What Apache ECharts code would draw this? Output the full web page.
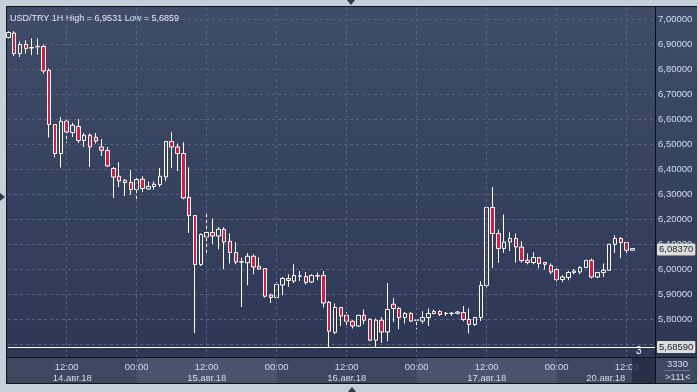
<!DOCTYPE html>
<html>
<head>
<meta charset="utf-8">
<script src="https://cdn.jsdelivr.net/npm/echarts@6/dist/echarts.min.js"></script>
<style>
html,body{margin:0;padding:0;background:#c6d0db;width:698px;height:392px;overflow:hidden;position:relative;}
.abs{position:absolute;}
#border{left:6px;top:6px;width:691px;height:378px;background:#10141c;}
#navy{left:7px;top:7px;width:690px;height:350px;background:linear-gradient(to bottom,#3f4c68 0%,#2c3855 100%);}
#band{left:7px;top:358px;width:690px;height:25px;background:#3c4760;}
#vline{left:655px;top:7px;width:1px;height:376px;background:#0c0f16;}
#c{left:0;top:0;width:698px;height:392px;}
#scrollbox{left:632px;top:358px;width:23px;height:25px;background:rgba(34,43,64,0.8);}
.tri{width:0;height:0;}
#triTop{left:347px;top:0;border-left:4px solid transparent;border-right:4px solid transparent;border-top:5px solid #2f394d;}
#triLeft{left:0;top:193px;border-top:4px solid transparent;border-bottom:4px solid transparent;border-left:5px solid #2f394d;}
#triBottom{left:348px;top:387px;border-left:4px solid transparent;border-right:4px solid transparent;border-bottom:5px solid #2f394d;}
</style>
</head>
<body>
<div id="border" class="abs"></div>
<div id="navy" class="abs"></div>
<div id="band" class="abs"></div>
<div id="vline" class="abs"></div>
<div id="c" class="abs"></div>
<div id="scrollbox" class="abs"></div>
<div id="triTop" class="abs tri"></div>
<div id="triLeft" class="abs tri"></div>
<div id="triBottom" class="abs tri"></div>
<script>
// Hour index counted from 14.08.18 00:00 over trading hours (weekend skipped: 20.08 00:00 = 96)
const hourIndex = [2,3,4,5,6,7,8,9,10,11,12,13,14,15,16,17,18,19,20,21,22,23,24,25,26,27,28,29,30,31,32,33,34,35,36,37,38,39,40,41,42,43,44,45,46,47,48,49,50,51,52,53,54,55,56,57,58,59,60,61,62,63,64,65,66,67,68,69,70,71,72,73,74,75,76,77,78,79,80,81,82,83,84,85,86,87,88,89,90,91,92,93,94,95,96,97,98,99,100,101,102,103,104,105,106,107,108,109];
const opens = [6.928,6.946,6.864,6.900,6.888,6.891,6.892,6.796,6.580,6.464,
6.593,6.548,6.572,6.516,6.537,6.529,6.490,6.476,6.404,6.373,
6.357,6.348,6.320,6.361,6.322,6.332,6.339,6.370,6.512,6.490,
6.464,6.288,6.216,6.020,6.130,6.148,6.134,6.161,6.113,6.068,
6.031,6.027,6.053,6.013,6.004,5.898,5.888,5.938,5.964,5.954,
5.974,5.972,5.950,5.975,5.976,5.869,5.749,5.848,5.817,5.793,
5.774,5.817,5.801,5.717,5.797,5.750,5.861,5.844,5.808,5.824,
5.798,5.794,5.808,5.824,5.832,5.825,5.824,5.825,5.828,5.800,
5.780,5.808,5.936,6.248,6.144,6.084,6.110,6.124,6.090,6.037,
6.028,6.048,6.028,6.016,6.000,5.960,5.968,5.988,5.990,6.008,
6.037,5.970,5.988,5.997,6.101,6.124,6.108,6.077];
const closes = [6.948,6.864,6.900,6.884,6.886,6.893,6.794,6.580,6.464,6.593,
6.550,6.577,6.516,6.537,6.490,6.514,6.477,6.414,6.370,6.354,
6.348,6.320,6.360,6.324,6.332,6.341,6.373,6.512,6.490,6.464,
6.286,6.216,6.020,6.140,6.148,6.134,6.161,6.110,6.068,6.030,
6.030,6.053,6.010,6.002,5.893,5.888,5.940,5.964,5.956,5.976,
5.973,5.948,5.976,5.974,5.866,5.753,5.848,5.814,5.793,5.774,
5.817,5.797,5.717,5.797,5.750,5.840,5.844,5.808,5.824,5.794,
5.797,5.808,5.824,5.832,5.820,5.824,5.825,5.830,5.800,5.780,
5.808,5.937,6.248,6.144,6.084,6.110,6.124,6.090,6.036,6.028,
6.048,6.024,6.021,5.990,5.960,5.970,5.988,5.994,6.008,6.037,
5.970,5.988,5.997,6.101,6.124,6.108,6.077,6.0837];
const lows = [6.925,6.854,6.850,6.864,6.857,6.860,6.784,6.528,6.448,6.408,
6.506,6.530,6.506,6.490,6.410,6.504,6.454,6.410,6.286,6.330,
6.294,6.298,6.280,6.310,6.320,6.319,6.330,6.354,6.406,6.394,
6.281,6.146,5.746,6.014,6.066,6.101,6.081,6.001,6.024,6.021,
5.850,5.937,5.981,6.000,5.888,5.866,5.885,5.897,5.930,5.946,
5.954,5.940,5.946,5.957,5.848,5.6859,5.741,5.774,5.766,5.764,
5.770,5.781,5.713,5.688,5.706,5.713,5.790,5.761,5.784,5.790,
5.761,5.784,5.774,5.820,5.814,5.814,5.814,5.820,5.793,5.744,
5.774,5.794,5.928,6.006,6.027,6.066,6.074,6.027,6.027,6.021,
6.021,6.005,6.000,5.981,5.952,5.950,5.957,5.981,5.981,6.008,
5.964,5.966,5.970,5.997,6.066,6.046,6.064,6.076];
const highs = [6.953,6.9531,6.913,6.917,6.924,6.924,6.900,6.804,6.582,6.610,
6.600,6.587,6.602,6.546,6.544,6.546,6.522,6.490,6.410,6.429,
6.362,6.397,6.370,6.373,6.352,6.352,6.406,6.512,6.549,6.504,
6.509,6.409,6.216,6.144,6.224,6.204,6.170,6.168,6.144,6.110,
6.048,6.066,6.061,6.048,6.004,5.904,5.949,5.970,5.981,6.021,
5.994,5.990,5.981,5.988,5.994,5.874,5.864,5.848,5.830,5.797,
5.817,5.840,5.804,5.804,5.810,5.946,5.886,5.850,5.830,5.830,
5.800,5.833,5.844,5.840,5.837,5.830,5.830,5.834,5.854,5.844,
5.810,5.953,6.248,6.330,6.160,6.220,6.149,6.144,6.113,6.064,
6.069,6.048,6.028,6.024,6.005,5.977,5.994,6.002,6.014,6.037,
6.044,5.990,6.024,6.101,6.137,6.130,6.114,6.0845];

const yTicks = [5.7,5.8,5.9,6.0,6.1,6.2,6.3,6.4,6.5,6.6,6.7,6.8,6.9,7.0];
const timeTicks = [12,24,36,48,60,72,84,96,108];
const timeTickLabels = ['12:00','00:00','12:00','00:00','12:00','00:00','12:00','00:00','12:00'];
const dayRanges = [[0,24],[24,48],[48,72],[72,96],[96,120]];
const dateLabels = ['14.авг.18','15.авг.18','16.авг.18','17.авг.18','20.авг.18'];
const shadedDays = [1,3];
const xMin = 1.94, xMax = 112.85;
const yMin = 5.65, yMax = 7.05;
const lastPrice = closes[closes.length-1];
const lowPrice = Math.min.apply(null, lows);
const highPrice = Math.max.apply(null, highs);

const FONT = "'Liberation Sans', Arial, sans-serif";
const LBL = '#d2def0';
const fmt5 = v => v.toFixed(5).replace('.', ',');
const fmt4 = v => v.toFixed(4).replace('.', ',');

const datePos = dayRanges.map(r => (Math.max(r[0], xMin) + Math.min(r[1], xMax)) / 2);

const candleData = hourIndex.map((t, i) => [t, opens[i], closes[i], lows[i], highs[i]]);

const chart = echarts.init(document.getElementById('c'), null, {renderer: 'canvas'});
chart.setOption({
  animation: false,
  backgroundColor: 'transparent',
  textStyle: {fontFamily: FONT},
  title: {
    text: 'USD/TRY 1H High = ' + fmt4(highPrice) + ' Low = ' + fmt4(lowPrice),
    left: 5, top: 9,
    textStyle: {color: '#e0e8f5', fontSize: 9, fontWeight: 'normal', fontFamily: FONT}
  },
  grid: [
    {left: 8, right: 43, top: 7, bottom: 35},
    {left: 8, right: 43, top: 358, height: 25}
  ],
  xAxis: [
    {
      type: 'value', gridIndex: 0, min: xMin, max: xMax, z: 10,
      axisLine: {show: false},
      axisTick: {show: false, customValues: timeTicks},
      axisLabel: {customValues: timeTicks, color: LBL, fontSize: 9.5, fontFamily: FONT, margin: 5,
        formatter: v => timeTickLabels[timeTicks.indexOf(v)]},
      splitLine: {show: true, lineStyle: {color: '#566380', width: 1, type: [3, 3]}}
    },
    {
      type: 'value', gridIndex: 0, min: xMin, max: xMax, position: 'bottom', z: 10,
      axisLine: {show: false},
      axisTick: {show: false, customValues: datePos},
      axisLabel: {customValues: datePos, color: LBL, fontSize: 9.5, fontFamily: FONT, margin: 16,
        formatter: v => dateLabels[datePos.indexOf(v)]},
      splitLine: {show: false}
    },
    {
      type: 'value', gridIndex: 1, min: xMin, max: xMax, show: false
    }
  ],
  yAxis: [
    {
      type: 'value', gridIndex: 0, position: 'right', min: yMin, max: yMax,
      axisLine: {show: false},
      axisTick: {show: false, customValues: yTicks},
      axisLabel: {customValues: yTicks, color: LBL, fontSize: 9.5, fontFamily: FONT, margin: 3,
        formatter: v => fmt5(v)},
      splitLine: {show: true, lineStyle: {color: '#566380', width: 1, type: [3, 3]}}
    },
    {type: 'value', gridIndex: 1, min: 0, max: 1, show: false}
  ],
  series: [
    {
      type: 'line', xAxisIndex: 2, yAxisIndex: 1, data: [], z: 0, silent: true,
      markArea: {
        silent: true,
        itemStyle: {color: '#49556e'},
        data: shadedDays.map(d => [{xAxis: dayRanges[d][0]}, {xAxis: dayRanges[d][1]}])
      }
    },
    {
      type: 'candlestick', xAxisIndex: 0, yAxisIndex: 0,
      data: candleData,
      encode: {x: 0, y: [1, 2, 3, 4]},
      barWidth: 4,
      clip: true,
      itemStyle: {
        color: 'rgba(0,0,0,0)', color0: '#e3173e',
        borderColor: '#ffffff', borderColor0: '#ffffff', borderColorDoji: '#ffffff',
        borderWidth: 1
      },
      emphasis: {disabled: true}
    },
    {
      type: 'line', xAxisIndex: 0, yAxisIndex: 0, data: [], clip: false, silent: true, z: 20,
      markLine: {
        silent: true, symbol: ['none', 'none'],
        label: {position: 'end', distance: 2, backgroundColor: '#dddfd6', color: '#16213a',
          fontSize: 9.5, fontFamily: FONT, padding: [1, 2, 1, 2], borderRadius: 1},
        data: [
          {yAxis: lowPrice, lineStyle: {color: '#ffffff', width: 1, type: 'solid'},
           label: {formatter: fmt5(lowPrice)}},
          {yAxis: lastPrice, lineStyle: {color: 'rgba(0,0,0,0)', width: 1, type: 'solid'},
           label: {formatter: fmt5(lastPrice)}}
        ]
      }
    }
  ],
  graphic: [
    {type: 'text', left: 636, top: 346, z: 100,
      style: {text: '3', fill: '#ffffff', font: '10px ' + FONT}},
    {type: 'text', left: 667, top: 359, z: 100,
      style: {text: '3330', fill: LBL, font: '9.5px ' + FONT}},
    {type: 'line', z: 100, shape: {x1: 664, y1: 370.5, x2: 690, y2: 370.5},
      style: {stroke: '#66718a', lineWidth: 1}},
    {type: 'text', left: 665, top: 372, z: 100,
      style: {text: '>111<', fill: LBL, font: '9.5px ' + FONT}}
  ]
});
</script>
</body>
</html>
